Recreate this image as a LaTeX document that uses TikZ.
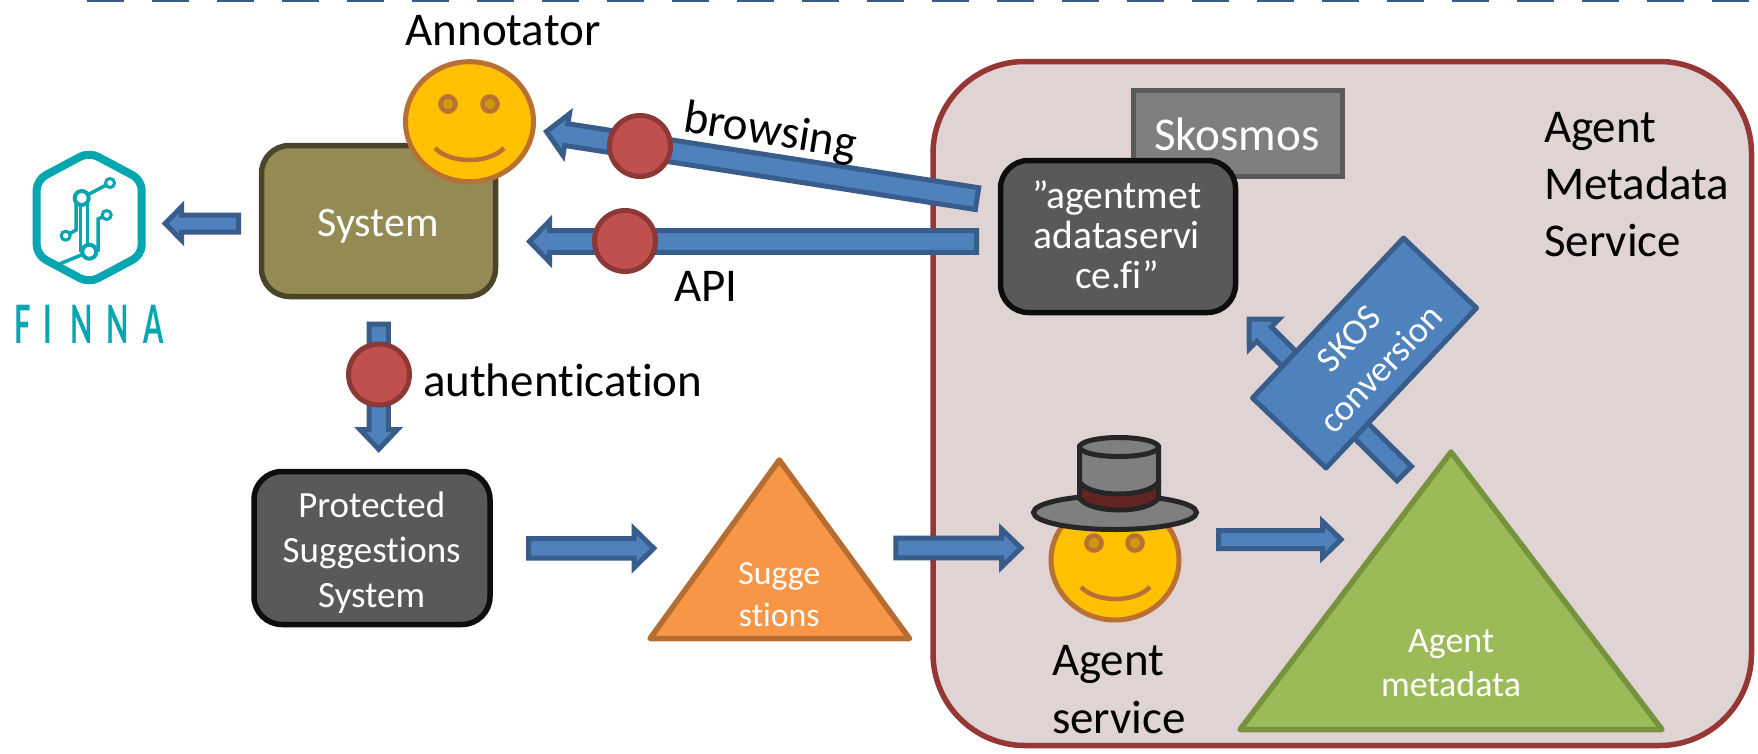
\documentclass[tikz,border=0pt]{standalone}
\usepackage{fontspec}
\usepackage{graphicx}
\setmainfont{Carlito}[Ligatures=NoCommon]
\newfontfamily\logofont{Lato}[BoldFont=Lato Bold]
\usetikzlibrary{calc,shapes.geometric}
\definecolor{flowfill}{HTML}{4F81BD}
\definecolor{flowline}{HTML}{385D8A}
\definecolor{redfill}{HTML}{C0504D}
\definecolor{redline}{HTML}{8C3836}
\definecolor{agentfill}{HTML}{DFD3D3}
\definecolor{agentline}{HTML}{953735}
\definecolor{darkbox}{HTML}{595959}
\definecolor{boxline}{HTML}{0D0D0D}
\definecolor{oliveline}{HTML}{4A452A}
\definecolor{olivefill}{HTML}{948A54}
\definecolor{faceline}{HTML}{B97034}
\definecolor{facefill}{HTML}{FFC000}
\definecolor{eyefill}{HTML}{CC9A06}
\definecolor{greenfill}{HTML}{9BBB59}
\definecolor{greenline}{HTML}{76923C}
\definecolor{orangefill}{HTML}{F79646}
\definecolor{orangeline}{HTML}{B66D31}
\definecolor{hatgray}{HTML}{7F7F7F}
\definecolor{hatline}{HTML}{262626}
\definecolor{hatband}{HTML}{632523}
\definecolor{finna}{HTML}{05A6B0}
\tikzset{
  flowarrow/.style={draw=flowline,fill=flowfill,line width=5pt,line join=miter,miter limit=10},
  reddot/.style={circle,draw=redline,fill=redfill,line width=5pt,minimum size=61pt,inner sep=0pt,outer sep=0pt},
  face/.style={ellipse,draw=faceline,fill=facefill,line width=5pt,minimum width=128pt,minimum height=120pt,inner sep=0pt,outer sep=0pt},
  eye/.style={ellipse,draw=faceline,fill=eyefill,line width=4.5pt,minimum width=15pt,minimum height=15pt,inner sep=0pt,outer sep=0pt},
  mouth/.style={draw=faceline,line width=4.5pt},
  darkrect/.style={draw=boxline,fill=darkbox,line width=5.5pt,rounded corners=28pt,inner sep=0pt,outer sep=0pt},
  lab/.style={anchor=base,inner sep=0pt,outer sep=0pt,font=\fontsize{47}{57}\selectfont},
  white37/.style={anchor=center,inner sep=0pt,outer sep=0pt,text=white,align=center},
  tri/.style={line width=5.5pt,line join=round},
  logoline/.style={draw=finna,line width=3.5pt},
  logodot/.style={circle,draw=finna,fill=white,inner sep=0pt,outer sep=0pt},
}
\newcommand{\blockarrow}[5]{%
  \pgfmathsetmacro\sa{#3-2.5}\pgfmathsetmacro\ha{#4-6}\pgfmathsetmacro\lb{#5-6}%
  \coordinate (t0) at ($(#1)!2.5pt!(#2)$);
  \coordinate (t1) at ($(#2)!3.5pt!(#1)$);
  \coordinate (hb) at ($(t1)!\lb pt!(t0)$);
  \draw[flowarrow] ($(t0)!\sa pt!90:(t1)$) -- ($(hb)!\sa pt!90:(t1)$) -- ($(hb)!\ha pt!90:(t1)$) -- (t1)
    -- ($(hb)!\ha pt!-90:(t1)$) -- ($(hb)!\sa pt!-90:(t1)$) -- ($(t0)!\sa pt!-90:(t1)$) -- cycle;
}
\begin{document}
\begin{tikzpicture}[x=1pt,y=-1pt]
\useasboundingbox (0,0) rectangle (1758,753);
\fill[white] (0,0) rectangle (1758,753);
\clip (0,0) rectangle (1758,753);
% top dashed rule
\coordinate (ruleL) at (87,0);
\coordinate (ruleR) at (1758,0);
\draw[flowline,line width=4pt,dash pattern=on 37pt off 28pt] (ruleL) -- (ruleR);
% service area
\node (service) [rectangle,draw=agentline,fill=agentfill,line width=5.5pt,rounded corners=92pt,
  minimum width=818.5pt,minimum height=684pt,inner sep=0pt,outer sep=0pt] at (1342.25,403.5) {};
\node (servicelab) [anchor=north west,inner sep=0pt,outer sep=0pt,align=left,font=\fontsize{47}{57}\selectfont] at (1544,112) {Agent\\Metadata\\Service};
% Finna logo
\coordinate (hx1) at (89,152);
\coordinate (hx2) at (141.7,180);
\coordinate (hx3) at (141.7,255);
\coordinate (hx4) at (89,283);
\coordinate (hx5) at (36.7,255);
\coordinate (hx6) at (36.7,180);
\draw[draw=finna,line width=8pt,line join=round,rounded corners=10pt] (hx1) -- (hx2) -- (hx3) -- (hx4) -- (hx5) -- (hx6) -- cycle;
\coordinate (logoedge) at (57,265);
\coordinate (bendE) at (76,230);
\coordinate (bendD) at (98,219);
\coordinate (dotAc) at (81.7,198);
\coordinate (dotBc) at (89.3,251.7);
\coordinate (dotCc) at (110,183);
\coordinate (dotDc) at (106.7,215);
\coordinate (dotEc) at (65.7,235.7);
\draw[logoline] (dotAc) -- (dotCc);
\draw[logoline] (dotBc) -- (logoedge);
\draw[logoline] (dotEc) -- (bendE) -- (bendE |- dotAc);
\draw[logoline] (dotDc) -- (bendD) -- (bendD |- dotBc);
\draw[logoline] ([xshift=-1pt]dotAc) -- ([xshift=-1pt]dotAc |- dotBc);
\draw[logoline] ([xshift=6pt]dotAc) -- ([xshift=6pt]dotAc |- dotBc);
\node (dotA) [logodot,line width=4pt,minimum size=14pt] at (dotAc) {};
\node (dotB) [logodot,line width=4pt,minimum size=14pt] at (dotBc) {};
\node (dotC) [logodot,line width=3pt,minimum size=9pt] at (dotCc) {};
\node (dotD) [logodot,line width=3pt,minimum size=9pt] at (dotDc) {};
\node (dotE) [logodot,line width=3pt,minimum size=9pt] at (dotEc) {};
\node (finnalab) [anchor=base,inner sep=0pt,outer sep=0pt,text=finna,font=\logofont\bfseries\fontsize{53}{53}\selectfont] at (89,343)
  {\scalebox{0.55}[1]{F\hspace{24pt}I\hspace{32pt}N\hspace{26pt}N\hspace{26pt}A}};
% System
\node (system) [rectangle,draw=oliveline,fill=olivefill,line width=5.5pt,rounded corners=28pt,
  minimum width=234pt,minimum height=151pt,inner sep=0pt,outer sep=0pt] at (378.5,221) {};
\node (systemlab) [anchor=base,inner sep=0pt,outer sep=0pt,text=white,font=\fontsize{42}{49}\selectfont] at (378,236) {System};
% Annotator
\node (annotator) [face] at (469.5,121.7) {};
\node (annEyeL) [eye] at (448,104) {};
\node (annEyeR) [eye] at (490,104) {};
\coordinate (annM1) at (435,148);
\coordinate (annM2) at (504,148);
\draw[mouth] (annM1) .. controls (450,164) and (489,164) .. (annM2);
\node (annotatorlab) [lab] at (503,45) {Annotator};
% arrows of the upper part
\coordinate (a1t) at (241,223.5); \coordinate (a1h) at (161.6,223.5);
\blockarrow{a1t}{a1h}{11}{22.5}{22.4}
\coordinate (a2t) at (979.5,199); \coordinate (a2h) at (543,131);
\blockarrow{a2t}{a2h}{13.5}{27}{26}
\coordinate (a3t) at (979,241.5); \coordinate (a3h) at (526,241.5);
\blockarrow{a3t}{a3h}{13.3}{26.5}{26}
\coordinate (a4t) at (378.7,321.7); \coordinate (a4h) at (378.7,452.7);
\blockarrow{a4t}{a4h}{12.2}{24.7}{25.7}
\node (dotBrowse) [reddot] at (640,146) {};
\node (dotApi) [reddot] at (625,241) {};
\node (dotAuth) [reddot] at (379,374.5) {};
\node (browsinglab) [lab,anchor=center,rotate=-9] at (770,133) {browsing};
\node (apilab) [lab] at (706,301) {API};
\node (authlab) [lab,anchor=base west] at (423,396) {authentication};
% Skosmos and the service box
\node (skosmos) [rectangle,draw=darkbox,fill=hatgray,line width=5.5pt,minimum width=209pt,minimum height=86pt,inner sep=0pt,outer sep=0pt] at (1238,133.5) {};
\node (skosmoslab) [anchor=base,inner sep=0pt,outer sep=0pt,text=white,font=\fontsize{47}{57}\selectfont] at (1237,150) {Skosmos};
\node (agentbox) [rectangle,darkrect,minimum width=235pt,minimum height=152pt] at (1118,236.5) {};
\node (agentboxlab) [white37,font=\fontsize{39.5}{40}\selectfont] at (1117,235) {”agentmet\\adataservi\\ce.fi”};
% SKOS conversion
\coordinate (a5t) at (1406,475.4); \coordinate (a5h) at (1246.7,316.7);
\blockarrow{a5t}{a5h}{12.7}{27}{27}
\coordinate (sk1) at (1403.5,238); \coordinate (sk2) at (1476.5,308);
\coordinate (sk3) at (1326,468); \coordinate (sk4) at (1252.5,398);
\draw[draw=flowline,fill=flowfill,line width=5pt,line join=round] (sk1) -- (sk2) -- (sk3) -- (sk4) -- cycle;
\node (skoslab) [white37,rotate=46.5,font=\fontsize{36.5}{44}\selectfont] at (1365,354) {SKOS\\conversion};
% Protected Suggestions System
\node (pss) [rectangle,darkrect,minimum width=236pt,minimum height=153pt] at (372,548) {};
\node (psslab) [white37,font=\fontsize{37}{45}\selectfont] at (371.7,553) {Protected\\Suggestions\\System};
\coordinate (a6t) at (526,548.3); \coordinate (a6h) at (657.3,548.3);
\blockarrow{a6t}{a6h}{12.3}{25.3}{25.6}
% Suggestions
\coordinate (or1) at (779.3,460); \coordinate (or2) at (909.5,638.5); \coordinate (or3) at (650,638.5);
\draw[tri,draw=orangeline,fill=orangefill] (or1) -- (or2) -- (or3) -- cycle;
\node (sugglab) [white37,font=\fontsize{33.8}{42}\selectfont] at (779.3,595) {Sugge\\stions};
% Agent service
\coordinate (a7t) at (893.3,548); \coordinate (a7h) at (1024.5,548);
\node (agentface) [face] at (1115,560) {};
\node (agEyeL) [eye] at (1094,543) {};
\node (agEyeR) [eye] at (1135,543) {};
\coordinate (agM1) at (1081,587);
\coordinate (agM2) at (1150,587);
\draw[mouth] (agM1) .. controls (1096,603) and (1135,603) .. (agM2);
\blockarrow{a7t}{a7h}{12.3}{25}{25.5}
\node (brim) [ellipse,draw=hatline,fill=hatgray,line width=5pt,minimum width=163pt,minimum height=34pt,inner sep=0pt,outer sep=0pt] at (1115,512.5) {};
\coordinate (hatTL) at (1079.5,447); \coordinate (hatTR) at (1158.5,447);
\coordinate (hatBL) at (1079.5,498); \coordinate (hatBR) at (1158.5,498);
\coordinate (hatML) at (1079.5,482); \coordinate (hatMR) at (1158.5,482);
\draw[draw=hatline,fill=hatband,line width=5pt] (hatML) -- (hatBL) .. controls (1090,514) and (1148,514) .. (hatBR) -- (hatMR) -- cycle;
\draw[draw=hatline,fill=hatgray,line width=5pt] (hatTL) -- (hatML) .. controls (1090,498) and (1148,498) .. (hatMR) -- (hatTR) -- cycle;
\node (hattop) [ellipse,draw=hatline,fill=hatgray,line width=5pt,minimum width=79pt,minimum height=19pt,inner sep=0pt,outer sep=0pt] at (1119,447) {};
\node (agentlab) [anchor=north west,inner sep=0pt,outer sep=0pt,align=left,font=\fontsize{47}{58}\selectfont] at (1052,645) {Agent\\service};
% Agent metadata
\coordinate (a8t) at (1216,539.5); \coordinate (a8h) at (1344.6,539.5);
\blockarrow{a8t}{a8h}{11.5}{24}{24.6}
\coordinate (gr1) at (1451,452); \coordinate (gr2) at (1662,729.5); \coordinate (gr3) at (1240,729.5);
\draw[tri,draw=greenline,fill=greenfill] (gr1) -- (gr2) -- (gr3) -- cycle;
\node (metalab) [white37,font=\fontsize{36}{44}\selectfont] at (1451,663) {Agent\\metadata};
\end{tikzpicture}
\end{document}
